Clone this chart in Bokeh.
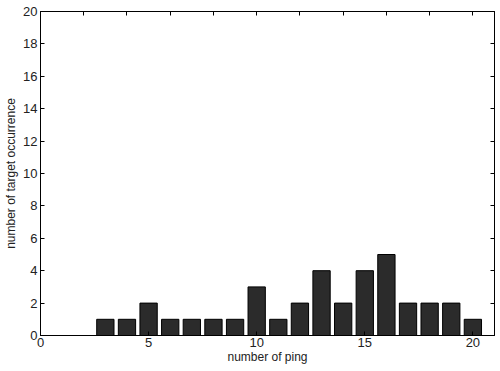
from bokeh.plotting import figure
from bokeh.models import LinearAxis, Range1d, FixedTicker
from bokeh.embed import file_html
from bokeh.resources import INLINE

pings = [3, 4, 5, 6, 7, 8, 9, 10, 11, 12, 13, 14, 15, 16, 17, 18, 19, 20]
counts = [1, 1, 2, 1, 1, 1, 1, 3, 1, 2, 4, 2, 4, 5, 2, 2, 2, 1]
x_ticks = [0, 5, 10, 15, 20]
y_ticks = [0, 2, 4, 6, 8, 10, 12, 14, 16, 18, 20]

FONT = "Liberation Sans"

p = figure(width=500, height=371, output_backend="svg", toolbar_location=None,
           x_range=Range1d(0, 21), y_range=Range1d(0, 20),
           min_border_left=40, min_border_right=6, min_border_top=11, min_border_bottom=36,
           x_axis_location=None, y_axis_location=None)
p.xgrid.visible = False
p.ygrid.visible = False
p.outline_line_color = "#000000"
p.outline_line_width = 1
p.background_fill_color = "white"
p.border_fill_color = "white"

p.vbar(x=pings, top=counts, width=0.8, bottom=0, fill_color="#2b2b2b",
       line_color="#000000", line_width=1)

def style(ax, labels=True):
    ax.ticker = FixedTicker(ticks=x_ticks if ax.dimension == 0 else y_ticks)
    ax.major_tick_in = 4
    ax.major_tick_out = 0
    ax.minor_tick_in = 0
    ax.minor_tick_out = 0
    ax.axis_line_color = "#000000"
    ax.major_tick_line_color = "#000000"
    ax.major_label_text_font = FONT
    ax.major_label_text_font_size = "13px"
    ax.major_label_text_color = "#222222" if labels else None
    ax.axis_label_text_font = FONT
    ax.axis_label_text_font_size = "12px"
    ax.axis_label_text_font_style = "normal"
    ax.axis_label_text_color = "#222222"

xb = LinearAxis(axis_label="number of ping")
xb.dimension = 0
style(xb)
xb.major_label_standoff = 2
xb.axis_label_standoff = 0
p.add_layout(xb, "below")

yl = LinearAxis(axis_label="number of target occurrence")
style(yl)
yl.major_label_standoff = 3
yl.axis_label_standoff = 2
p.add_layout(yl, "left")

xt = LinearAxis()
style(xt, labels=False)
xt.major_label_text_font_size = "0px"
xt.major_label_standoff = 0
p.add_layout(xt, "above")

yr = LinearAxis()
style(yr, labels=False)
yr.major_label_text_font_size = "0px"
yr.major_label_standoff = 0
p.add_layout(yr, "right")

open("out.html", "w").write(file_html(p, INLINE))
